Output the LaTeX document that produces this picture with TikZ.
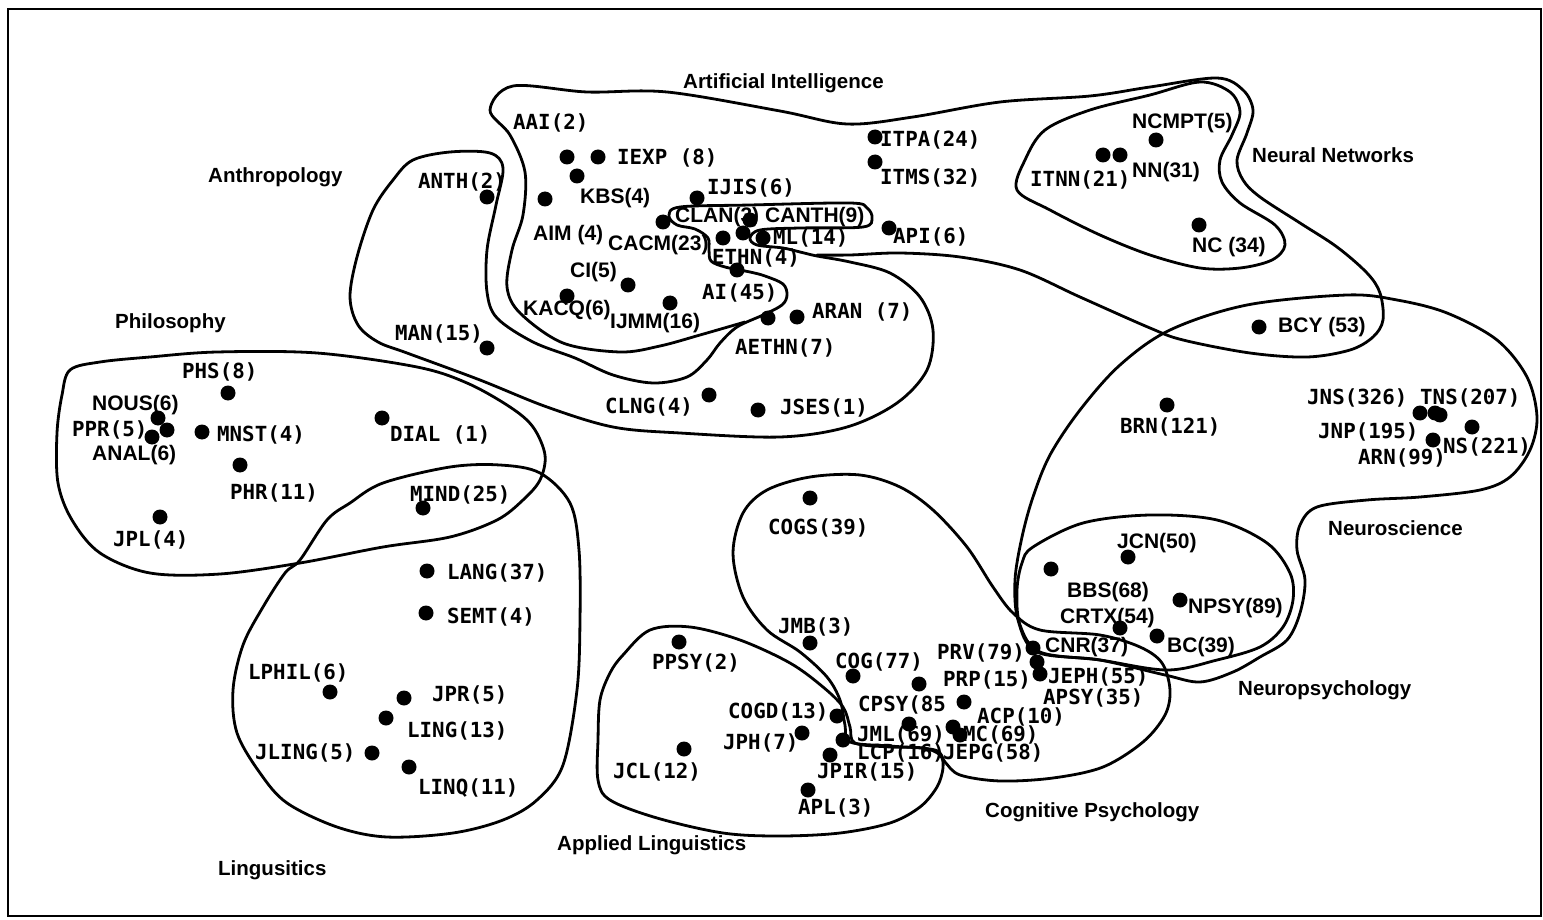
\documentclass[tikz,border=0pt]{standalone}
\usepackage{fontspec}
\newfontfamily\monof{DejaVu Sans Mono}
\newfontfamily\propf{Liberation Sans}
\tikzset{
  region/.style={line width=2.8pt, line join=round, line cap=round},
  jdot/.style={circle, fill=black, inner sep=0pt, minimum size=15pt},
  lab/.style={anchor=west, inner sep=0pt, font=\monof\bfseries\fontsize{20.8}{21}\selectfont},
  labp/.style={anchor=west, inner sep=0pt, font=\propf\bfseries\fontsize{21}{22}\selectfont},
  cat/.style={anchor=west, inner sep=0pt, font=\propf\bfseries\fontsize{20.5}{21}\selectfont},
}
\begin{document}
\begin{tikzpicture}[x=1pt,y=-1pt]
\useasboundingbox (0,0) rectangle (1543,920);
\fill[white] (0,0) rectangle (1543,920);
\draw[line width=2.4pt] (8,9) rectangle (1541,916);

% Artificial Intelligence (open stroke, joins the Anthropology tongue)
\draw[region] plot[smooth, tension=0.55] coordinates {
 (745,322) (700,335) (660,346) (620,352) (563,343) (520,313) (507,287) (512,250)
 (523,215) (525,172) (510,135) (490,110) (513,86) (587,92) (667,92) (780,111)
 (847,124) (913,117) (1000,102) (1090,96) (1150,87) (1217,78) (1243,90) (1253,110)
 (1247,133) (1237,160) (1243,180) (1260,197) (1300,223) (1337,247) (1367,273) (1380,293)
 (1383,320) (1373,337) (1350,350) (1307,357) (1250,353) (1183,340) (1150,328) (1080,297)
 (1020,270) (960,257) (900,253) (850,255) (817,255)};

% Anthropology
\draw[region] plot[smooth cycle, tension=0.55] coordinates {
 (413,160) (450,152) (490,153) (503,168) (496,205) (487,250) (487,292) (497,318)
 (533,342) (575,358) (613,375) (653,383) (687,377) (707,360) (720,343) (737,327)
 (763,315) (782,305) (787,295) (783,284) (765,276) (750,272) (725,267) (711,261)
 (709,250) (708,238) (695,229) (677,225) (669,216) (680,207) (750,205) (850,203)
 (867,208) (872,218) (863,227) (800,228) (760,230) (750,238) (757,245) (783,248)
 (800,252) (817,256) (850,262) (890,273) (920,297) (933,330) (927,370) (897,403)
 (847,427) (780,437) (680,433) (613,427) (547,407) (480,380) (407,353) (378,342)
 (358,325) (350,297) (357,257) (373,210) (393,180)};

% Neural Networks
\draw[region] plot[smooth cycle, tension=0.55] coordinates {
 (1017,190) (1025,160) (1045,130) (1090,110) (1150,95) (1200,82) (1230,92) (1240,112)
 (1232,135) (1220,160) (1222,182) (1240,203) (1275,225) (1285,245) (1272,260) (1240,268)
 (1200,268) (1150,255) (1100,235) (1050,210)};

% Philosophy
\draw[region] plot[smooth cycle, tension=0.55] coordinates {
 (70,370) (100,362) (150,357) (217,352) (317,353) (417,367) (467,383) (510,407)
 (533,427) (545,455) (540,480) (523,500) (497,520) (450,537) (383,547) (300,563)
 (220,574) (150,573) (100,553) (72,520) (58,483) (57,433) (62,395)};

% Linguistics
\draw[region] plot[smooth cycle, tension=0.55] coordinates {
 (300,560) (327,520) (350,503) (383,483) (450,467) (500,465) (540,473) (570,503)
 (579,550) (580,620) (577,690) (563,765) (537,800) (503,820) (453,833) (387,837)
 (337,827) (287,803) (260,773) (237,733) (233,690) (243,645) (263,607) (285,573)};

% Cognitive Psychology
\draw[region] plot[smooth cycle, tension=0.55] coordinates {
 (845,725) (840,700) (827,677) (800,652) (767,630) (743,597) (733,553) (743,513)
 (767,490) (810,477) (860,475) (900,487) (933,510) (967,547) (993,587) (1013,613)
 (1040,630) (1100,635) (1140,647) (1162,663) (1170,690) (1165,715) (1143,742) (1103,767)
 (1053,778) (1000,781) (960,775) (945,762) (935,750) (890,746) (850,742)};

% Applied Linguistics
\draw[region] plot[smooth cycle, tension=0.55] coordinates {
 (610,673) (623,655) (650,630) (690,627) (740,640) (790,663) (823,687) (843,707)
 (850,727) (855,743) (890,747) (923,748) (940,755) (943,768) (937,787) (920,807)
 (890,823) (840,833) (780,836) (723,833) (657,818) (610,800) (598,780) (598,740) (600,700)};

% Neuropsychology
\draw[region] plot[smooth cycle, tension=0.55] coordinates {
 (1033,547) (1083,523) (1150,515) (1217,520) (1267,543) (1290,573) (1293,600) (1283,627)
 (1260,647) (1217,660) (1167,670) (1100,660) (1040,652) (1020,625) (1017,590) (1022,563)};

% Neuroscience
\draw[region] plot[smooth cycle, tension=0.55] coordinates {
 (1037,652) (1018,620) (1015,580) (1022,537) (1033,497) (1050,455) (1080,410) (1120,365)
 (1170,330) (1247,305) (1347,295) (1397,300) (1447,313) (1497,340) (1527,377) (1537,417)
 (1530,450) (1510,477) (1480,490) (1420,497) (1367,500) (1317,507) (1300,525) (1297,550)
 (1305,580) (1300,613) (1287,640) (1260,657) (1233,672) (1200,682) (1165,675) (1100,660)};

% category labels
\node[cat] (cAI) at (683,83) {Artificial Intelligence};
\node[cat] (cAnth) at (208,177) {Anthropology};
\node[cat] (cNN) at (1252,155) {Neural Networks};
\node[cat] (cPhil) at (115,323) {Philosophy};
\node[cat] (cNS) at (1328,528) {Neuroscience};
\node[cat] (cNP) at (1238,690) {Neuropsychology};
\node[cat] (cCP) at (985,812) {Cognitive Psychology};
\node[cat] (cAL) at (557,845) {Applied Linguistics};
\node[cat] (cLing) at (218,870) {Lingusitics};

% dots
\foreach \n/\p in {
 AAI/{(567,157)}, IEXP/{(598,157)}, KBS/{(577,176)}, AIM/{(545,199)}, IJIS/{(697,198)},
 CLAN/{(663,222)}, CANTH/{(750,220)}, CACMb/{(743,233)}, CACM/{(723,238)}, ML/{(763,238)},
 AI/{(737,270)}, CI/{(628,285)}, KACQ/{(567,296)}, IJMM/{(670,303)}, ARAN/{(797,317)},
 AETHN/{(768,318)}, CLNG/{(709,395)}, JSES/{(758,410)}, ITPA/{(875,137)}, ITMS/{(875,162)},
 API/{(889,228)}, ANTH/{(487,197)}, MAN/{(487,348)},
 NCMPT/{(1156,140)}, ITNN/{(1103,155)}, NN/{(1120,155)}, NC/{(1199,225)},
 BCY/{(1259,327)}, BRN/{(1167,405)}, JNS/{(1420,413)}, TNS/{(1435,413)}, TNSb/{(1440,415)},
 JNP/{(1433,440)}, NS/{(1472,427)},
 JCN/{(1128,557)}, BBS/{(1051,569)}, NPSY/{(1180,600)}, CRTX/{(1120,628)}, BC/{(1157,636)},
 COGS/{(810,498)}, JMB/{(810,643)}, COG/{(853,676)}, PRV/{(1033,648)}, CNR/{(1037,662)},
 JEPH/{(1040,674)}, PRP/{(919,684)}, CPSY/{(964,702)}, ACP/{(953,727)}, MC/{(960,735)},
 LCP/{(909,724)}, JML/{(843,740)}, JPIR/{(830,755)}, COGD/{(837,716)}, JPH/{(802,733)},
 PPSY/{(679,642)}, JCL/{(684,749)}, APL/{(808,790)},
 PHS/{(228,393)}, NOUS/{(158,418)}, PPR/{(167,430)}, ANAL/{(152,437)}, MNST/{(202,432)},
 DIAL/{(382,418)}, PHR/{(240,465)}, MIND/{(423,508)}, JPL/{(160,517)},
 LANG/{(427,571)}, SEMT/{(426,613)}, LPHIL/{(330,692)}, JPR/{(404,698)}, LING/{(386,718)},
 JLING/{(372,753)}, LINQ/{(409,767)}}
 {\node[jdot] (d\n) at \p {};}

% journal labels (mono)
\foreach \n/\p/\t in {
 AAI/{(513,123)}/{AAI(2)}, IEXP/{(617,158)}/{IEXP (8)}, IJIS/{(707,188)}/{IJIS(6)},
 ML/{(773,238)}/{ML(14)}, ETHN/{(712,258)}/{ETHN(4)}, AI/{(702,293)}/{AI(45)},
 ARAN/{(812,312)}/{ARAN (7)}, AETHN/{(735,348)}/{AETHN(7)}, CLNG/{(605,407)}/{CLNG(4)},
 JSES/{(780,408)}/{JSES(1)}, ITPA/{(880,140)}/{ITPA(24)}, ITMS/{(880,178)}/{ITMS(32)},
 API/{(893,237)}/{API(6)}, ANTH/{(418,182)}/{ANTH(2)}, MAN/{(395,334)}/{MAN(15)},
 ITNN/{(1030,180)}/{ITNN(21)}, BRN/{(1120,427)}/{BRN(121)}, JNS/{(1307,398)}/{JNS(326)},
 TNS/{(1420,398)}/{TNS(207)}, JNP/{(1318,432)}/{JNP(195)}, NS/{(1443,447)}/{NS(221)},
 ARN/{(1358,458)}/{ARN(99)},
 COGS/{(768,528)}/{COGS(39)}, JMB/{(778,627)}/{JMB(3)}, COG/{(835,662)}/{COG(77)},
 PRV/{(937,653)}/{PRV(79)}, PRP/{(943,680)}/{PRP(15)}, JEPH/{(1048,677)}/{JEPH(55)},
 APSY/{(1043,698)}/{APSY(35)}, CPSY/{(858,705)}/{CPSY(85}, ACP/{(977,717)}/{ACP(10)},
 MC/{(963,735)}/{MC(69)}, JML/{(857,735)}/{JML(69)}, LCP/{(857,753)}/{LCP(16)},
 JEPG/{(943,753)}/{JEPG(58)}, PPSY/{(652,663)}/{PPSY(2)}, COGD/{(728,712)}/{COGD(13)},
 JPH/{(723,743)}/{JPH(7)}, JCL/{(613,772)}/{JCL(12)}, JPIR/{(817,772)}/{JPIR(15)},
 APL/{(798,808)}/{APL(3)},
 PHS/{(182,372)}/{PHS(8)}, PPR/{(72,430)}/{PPR(5)}, MNST/{(217,435)}/{MNST(4)},
 DIAL/{(390,435)}/{DIAL (1)}, PHR/{(230,493)}/{PHR(11)}, MIND/{(410,495)}/{MIND(25)},
 JPL/{(113,540)}/{JPL(4)},
 LANG/{(447,573)}/{LANG(37)}, SEMT/{(447,617)}/{SEMT(4)}, LPHIL/{(248,673)}/{LPHIL(6)},
 JPR/{(432,695)}/{JPR(5)}, LING/{(407,731)}/{LING(13)}, JLING/{(255,753)}/{JLING(5)},
 LINQ/{(418,788)}/{LINQ(11)}}
 {\node[lab] (l\n) at \p {\t};}

% journal labels (proportional)
\foreach \n/\p/\t in {
 KBS/{(580,198)}/{KBS(4)}, AIM/{(533,235)}/{AIM (4)}, CLAN/{(675,217)}/{CLAN(3)},
 CANTH/{(765,217)}/{CANTH(9)}, CACM/{(608,245)}/{CACM(23)}, CI/{(570,272)}/{CI(5)},
 KACQ/{(523,310)}/{KACQ(6)}, IJMM/{(610,323)}/{IJMM(16)},
 NCMPT/{(1132,123)}/{NCMPT(5)}, NN/{(1132,172)}/{NN(31)}, NC/{(1192,247)}/{NC (34)},
 BCY/{(1278,327)}/{BCY (53)},
 JCN/{(1117,543)}/{JCN(50)}, BBS/{(1067,592)}/{BBS(68)}, NPSY/{(1188,608)}/{NPSY(89)},
 CRTX/{(1060,618)}/{CRTX(54)}, BC/{(1167,647)}/{BC(39)}, CNR/{(1045,647)}/{CNR(37)},
 NOUS/{(92,405)}/{NOUS(6)}, ANAL/{(92,455)}/{ANAL(6)}}
 {\node[labp] (l\n) at \p {\t};}
\end{tikzpicture}
\end{document}
